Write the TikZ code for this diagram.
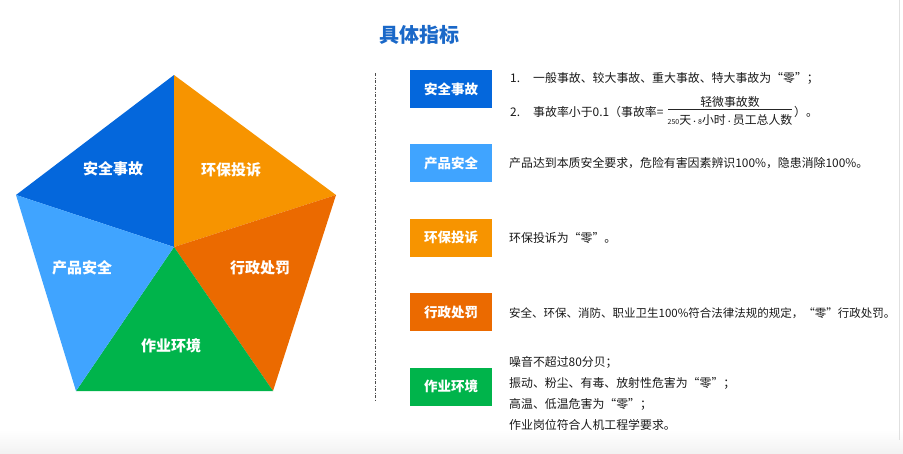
\documentclass[tikz,border=0pt]{standalone}
\usepackage{fontspec}
\setmainfont{Noto Sans CJK SC}
\usetikzlibrary{positioning}
\definecolor{safeblue}{HTML}{0467DC}
\definecolor{envorange}{HTML}{F79400}
\definecolor{punred}{HTML}{EB6A00}
\definecolor{workgreen}{HTML}{00B44B}
\definecolor{prodblue}{HTML}{40A4FF}
\definecolor{titleblue}{HTML}{1A68C8}
\newcommand{\smalldot}{{\fontsize{7}{8}\selectfont •}}
\tikzset{
  wedgelabel/.style={text=white, font=\fontsize{15}{18}\selectfont\bfseries},
  tagbox/.style={minimum width=82pt, minimum height=38pt, inner sep=0pt,
    text=white, font=\fontsize{13.5}{16}\selectfont\bfseries},
  desc/.style={anchor=west, inner sep=0pt, text=black!90,
    font=\fontsize{11.9}{14}\selectfont}
}

\begin{document}
\begin{tikzpicture}[x=1pt,y=-1pt]
\useasboundingbox (0,0) rectangle (903,453);
\shade[top color=white, bottom color=black!5] (0,430) rectangle (903,453);
\draw[black!12] (899,0) -- (899,440);

% pentagon
\coordinate (mid) at (174,247);
\coordinate (top) at (174,75);
\coordinate (rgt) at (336,195);
\coordinate (brt) at (273,391);
\coordinate (blf) at (76,391);
\coordinate (lft) at (16,195);
\fill[safeblue] (mid) -- (lft) -- (top) -- cycle;
\fill[envorange] (mid) -- (top) -- (rgt) -- cycle;
\fill[punred] (mid) -- (rgt) -- (brt) -- cycle;
\fill[workgreen] (mid) -- (brt) -- (blf) -- cycle;
\fill[prodblue] (mid) -- (blf) -- (lft) -- cycle;
\node[wedgelabel] at (113,169) (w1) {安全事故};
\node[wedgelabel] at (231,170) (w2) {环保投诉};
\node[wedgelabel] at (260,268) (w3) {行政处罚};
\node[wedgelabel] at (171,346) (w4) {作业环境};
\node[wedgelabel] at (82,268) (w5) {产品安全};

% right side
\node[text=titleblue, font=\fontsize{20}{24}\selectfont\bfseries] at (419,35) (title) {具体指标};
\coordinate (dtop) at (375.5,73);
\coordinate (dbot) at (375.5,401);
\draw[black!70, line width=0.6pt, dash pattern=on 3pt off 1.5pt on 1pt off 1.5pt] (dtop) -- (dbot);

\node[tagbox, fill=safeblue] at (451,89) (t1) {安全事故};
\node[tagbox, fill=prodblue, below=36pt of t1] (t2) {产品安全};
\node[tagbox, fill=envorange, below=36pt of t2] (t3) {环保投诉};
\node[tagbox, fill=punred, below=36pt of t3] (t4) {行政处罚};
\node[tagbox, fill=workgreen, below=36pt of t4] (t5) {作业环境};

\node[desc] at (510,78) (n1) {1.};
\node[desc] at (533,78) (d1) {一般事故、较大事故、重大事故、特大事故为“零”；};
\node[desc] at (510,112) (n2) {2.};
\node[desc] at (533,112) (d2) {事故率小于0.1（事故率=};
\node[desc, anchor=center] at (730,102) (fnum) {轻微事故数};
\node[desc, anchor=center] at (730,119.5) (fden) {{\fontsize{7}{8}\selectfont 250}天{\fontsize{7}{8}\selectfont •8}小时\smalldot 员工总人数};
\coordinate (fl) at (668,109);
\coordinate (fr) at (792,109);
\draw[black!85, line width=0.8pt] (fl) -- (fr);
\node[desc] at (794,112) (d2end) {）。};

\node[desc] at (509,163) (d3) {产品达到本质安全要求，危险有害因素辨识100\%，隐患消除100\%。};
\node[desc] at (509,238) (d4) {环保投诉为“零”。};
\node[desc, font=\fontsize{11.5}{14}\selectfont] at (509,313) (d5) {安全、环保、消防、职业卫生100\%符合法律法规的规定，“零”行政处罚。};
\node[desc, align=left, font=\fontsize{11.9}{21}\selectfont] at (509,393.5) (d6)
  {噪音不超过80分贝；\\振动、粉尘、有毒、放射性危害为“零”；\\高温、低温危害为“零”；\\作业岗位符合人机工程学要求。};
\end{tikzpicture}
\end{document}
